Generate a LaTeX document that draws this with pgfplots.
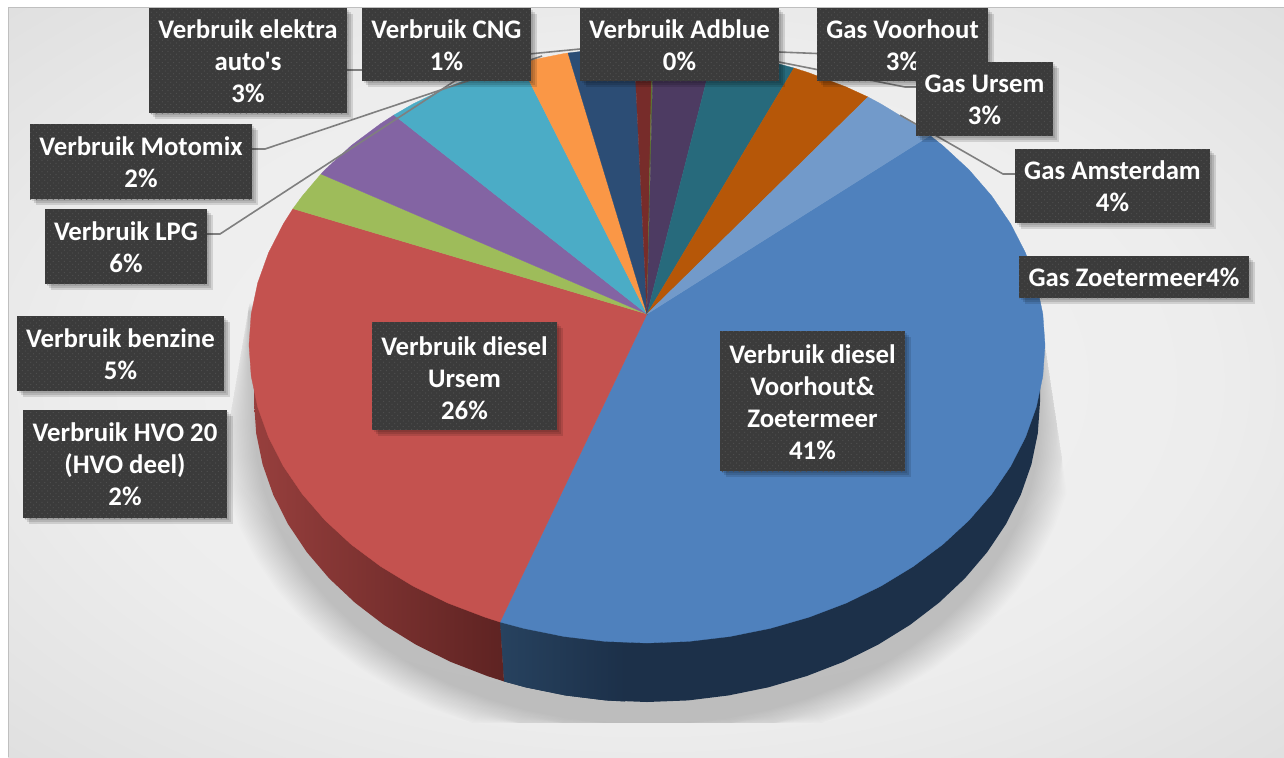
\documentclass[border=0pt]{standalone}
\usepackage{fontspec}
\setmainfont[Ligatures=TeXOff]{Carlito}
\usepackage{pgfplots}
\usepackage{pgfplotstable}
\pgfplotsset{compat=1.18}
\usetikzlibrary{patterns}
\pgfdeclareradialshading{bgshade}{\pgfpoint{0bp}{0bp}}{rgb(0bp)=(.955,.955,.955); rgb(22bp)=(.93,.93,.93); rgb(40bp)=(.86,.86,.86); rgb(52bp)=(.81,.81,.81); rgb(71bp)=(.75,.75,.75)}
\pgfdeclarepatternformonly{bdots}{\pgfqpoint{-0.5pt}{-0.5pt}}{\pgfqpoint{3.3pt}{3.3pt}}{\pgfqpoint{2.8pt}{2.8pt}}{%
  \pgfpathcircle{\pgfqpoint{0pt}{0pt}}{.33pt}\pgfpathcircle{\pgfqpoint{1.4pt}{1.4pt}}{.33pt}\pgfusepath{fill}}
\definecolor{cBlue}{HTML}{4F81BD}
\definecolor{cRed}{HTML}{C4524F}
\definecolor{cGreen}{HTML}{9EBC5A}
\definecolor{cPurple}{HTML}{8364A3}
\definecolor{cCyan}{HTML}{4BACC6}
\definecolor{cOrange}{HTML}{FA9746}
\definecolor{cNavy}{HTML}{2C4D75}
\definecolor{cDRed}{HTML}{772C2A}
\definecolor{cOlive}{HTML}{5F7530}
\definecolor{cDPurple}{HTML}{4D3B62}
\definecolor{cTeal}{HTML}{276A7C}
\definecolor{cDOrange}{HTML}{B65708}
\definecolor{cLBlue}{HTML}{729ACA}
\definecolor{cBox}{HTML}{3B3B3B}
\definecolor{cDot}{HTML}{505050}
\definecolor{cLead}{HTML}{7F7F7F}
\definecolor{cSideB}{HTML}{1C3049}
\definecolor{cSideBL}{HTML}{27425F}
\definecolor{cSideRL}{HTML}{973F3D}
\definecolor{cSideRR}{HTML}{5E2322}
\pgfplotstableread{
x y
1040 300
1040 402
1037.8 433.4
1031.4 464.4
1020.8 494.7
1006 524
987.3 552
964.9 578.3
939 602.7
910 624.9
878 644.7
843.5 661.8
806.8 676
768.4 687.3
728.7 695.4
688.1 700.4
647 702
605.9 700.4
565.3 695.4
525.6 687.3
487.2 676
450.5 661.8
416 644.7
384 624.9
355 602.7
329.1 578.3
306.7 552
288 524
273.2 494.7
262.6 464.4
256.2 433.4
254 402
254 290
}\rimB
\newcommand\slice[2]{\addplot[fill=#1,draw=#1,line width=.15pt] coordinates {#2} -- cycle;}
\newcommand\lead[1]{\addplot[cLead,line width=.8pt] coordinates {#1};}
\newcommand\lbl[6][0.5]{%
  \fill[black,opacity=.10,xshift=1pt,yshift=-1pt] (axis cs:#2,#3) rectangle (axis cs:#4,#5);
  \fill[black,opacity=.12,xshift=2pt,yshift=-2pt] (axis cs:#2,#3) rectangle (axis cs:#4,#5);
  \fill[black,opacity=.12,xshift=3pt,yshift=-3pt] (axis cs:#2,#3) rectangle (axis cs:#4,#5);
  \fill[cBox,postaction={pattern=bdots,pattern color=cDot}] (axis cs:#2,#3) rectangle (axis cs:#4,#5);
  \node[text=white,align=center,inner sep=0pt,font=\fontsize{13.4}{16}\selectfont\bfseries] at (axis cs:{(#2+#4)/2},{(#3+#5)/2+#1}) {#6};}
\begin{document}
\begin{tikzpicture}
\begin{axis}[scale only axis,width=642pt,height=378.5pt,hide axis,
  xmin=0,xmax=1284,ymin=0,ymax=757,y dir=reverse,clip=true]
% page and background
\fill[white] (axis cs:0,0) rectangle (axis cs:1284,757);
\path[shading=bgshade] (axis cs:8,7) rectangle (axis cs:1284,757);
\draw[color=black!25,line width=.5pt] (axis cs:8,757) -- (axis cs:8,7) -- (axis cs:1284,7);
% soft shadow under the pie
\pgfplotsinvokeforeach{1.0,1.004,1.008,1.012,1.016,1.02,1.024,1.028,1.032,1.036,1.04,1.044,1.048,1.052,1.056,1.06,1.064,1.068,1.072,1.076,1.08,1.084,1.088,1.092}{
  \addplot[fill=black,draw=none,fill opacity=.0085] table[
    x expr={max(250-0.17*(425+(\thisrow{y}-402)*#1-300),min(1045+0.15*(425+(\thisrow{y}-402)*#1-345),647+(\thisrow{x}-647)*#1))},
    y expr={min(723,425+(\thisrow{y}-402)*#1)}] {\rimB};
}
% side of the pie
\addplot[fill=cSideB,draw=none] coordinates {(500,622)(504,681.4)(525.6,687.3)(565.3,695.4)(605.9,700.4)(647,702)(688.1,700.4)(728.7,695.4)(768.4,687.3)(806.8,676)(843.5,661.8)(878,644.7)(910,624.9)(939,602.7)(964.9,578.3)(987.3,552)(1006,524)(1020.8,494.7)(1031.4,464.4)(1037.8,433.4)(1040,402)(1040,380)(647,400)};
\addplot[left color=cSideBL,right color=cSideB,draw=none] coordinates {(500,622)(504,681.4)(525.6,687.3)(565.3,695.4)(605.9,700.4)(625,701.5)(625,640)};
\addplot[left color=cSideRL,right color=cSideRR,draw=none] coordinates {(500,622)(504,681.4)(487.2,676)(450.5,661.8)(416,644.7)(384,624.9)(355,602.7)(329.1,578.3)(306.7,552)(288,524)(273.2,494.7)(262.6,464.4)(256.2,433.4)(254,402)(254,380)(500,400)};
% slices of the top face
\slice{cBlue}{(647,314)(930,135.5)(942.8,145.6)(969,169.8)(991.7,196)(1010.6,223.8)(1025.5,252.9)(1036.3,283)(1042.8,313.9)(1045,345)(1042.8,376.1)(1036.3,407)(1025.5,437.1)(1010.6,466.2)(991.7,494)(969,520.2)(942.8,544.4)(913.3,566.4)(880.9,586.1)(846,603.1)(808.9,617.2)(770,628.4)(729.7,636.5)(688.6,641.4)(647,643)(605.4,641.4)(564.3,636.5)(524,628.4)(500,622)}
\slice{cRed}{(647,314)(500,622)(485.1,617.2)(448,603.1)(413.1,586.1)(380.7,566.4)(351.2,544.4)(325,520.2)(302.3,494)(283.4,466.2)(268.5,437.1)(257.7,407)(251.2,376.1)(249,345)(251.2,313.9)(257.7,283)(268.5,252.9)(283.4,223.8)(293,208.7)}
\slice{cGreen}{(647,314)(293,208.7)(302.3,196)(321,174)}
\slice{cPurple}{(647,314)(321,174)(325,169.8)(351.2,145.6)(380.7,123.6)(394,115)}
\slice{cCyan}{(647,314)(394,115)(413.1,103.9)(448,86.9)(485.1,72.8)(520,62.6)}
\slice{cOrange}{(647,314)(520,62.6)(524,61.6)(564.3,53.5)(568,53)}
\slice{cNavy}{(647,314)(568,53)(605.4,48.6)(634,47.1)}
\slice{cDRed}{(647,314)(634,47.1)(647,47)(652,47)}
\slice{cOlive}{(647,314)(652,47)(653.5,47)}
\slice{cDPurple}{(647,314)(653.5,47)(688.6,48.6)(714,51.3)}
\slice{cTeal}{(647,314)(714,51.3)(729.7,53.5)(770,61.6)(794,68)}
\slice{cDOrange}{(647,314)(794,68)(808.9,72.8)(846,86.9)(868,97)}
\slice{cLBlue}{(647,314)(868,97)(880.9,103.9)(913.3,123.6)(930,135.5)}
% leader lines
\lead{(347,70)(365,70)(580,49)}
\lead{(252,149)(265,149)(530,60)(542,56)}
\lead{(207,234)(220,234)(470,71)}
\lead{(779,52)(817,53.5)}
\lead{(916,87)(905,87)(779,62)}
\lead{(1015,174)(1003,174)(900,115)}
% data labels
\lbl{149}{8}{347}{113}{Verbruik elektra\\auto's\\3\%}
\lbl{362}{8}{531}{81}{Verbruik CNG\\1\%}
\lbl{580}{8}{779}{81}{Verbruik Adblue\\0\%}
\lbl{817}{8}{988}{81}{Gas Voorhout\\3\%}
\lbl{916}{62}{1053}{136}{Gas Ursem\\3\%}
\lbl{1015}{149}{1210}{223}{Gas Amsterdam\\4\%}
\lbl{1019}{256}{1249}{298}{Gas Zoetermeer4\%}
\lbl{30}{124}{252}{199}{Verbruik Motomix\\2\%}
\lbl{45}{209}{207}{284}{Verbruik LPG\\6\%}
\lbl{17}{316}{224}{391}{Verbruik benzine\\5\%}
\lbl{23}{410}{227}{518}{Verbruik HVO 20\\(HVO deel)\\2\%}
\lbl[2.5]{372}{322}{557}{430}{Verbruik diesel\\Ursem\\26\%}
\lbl[1.5]{720}{331}{905}{471}{Verbruik diesel\\Voorhout\&\\Zoetermeer\\41\%}
\end{axis}
\end{tikzpicture}
\end{document}
